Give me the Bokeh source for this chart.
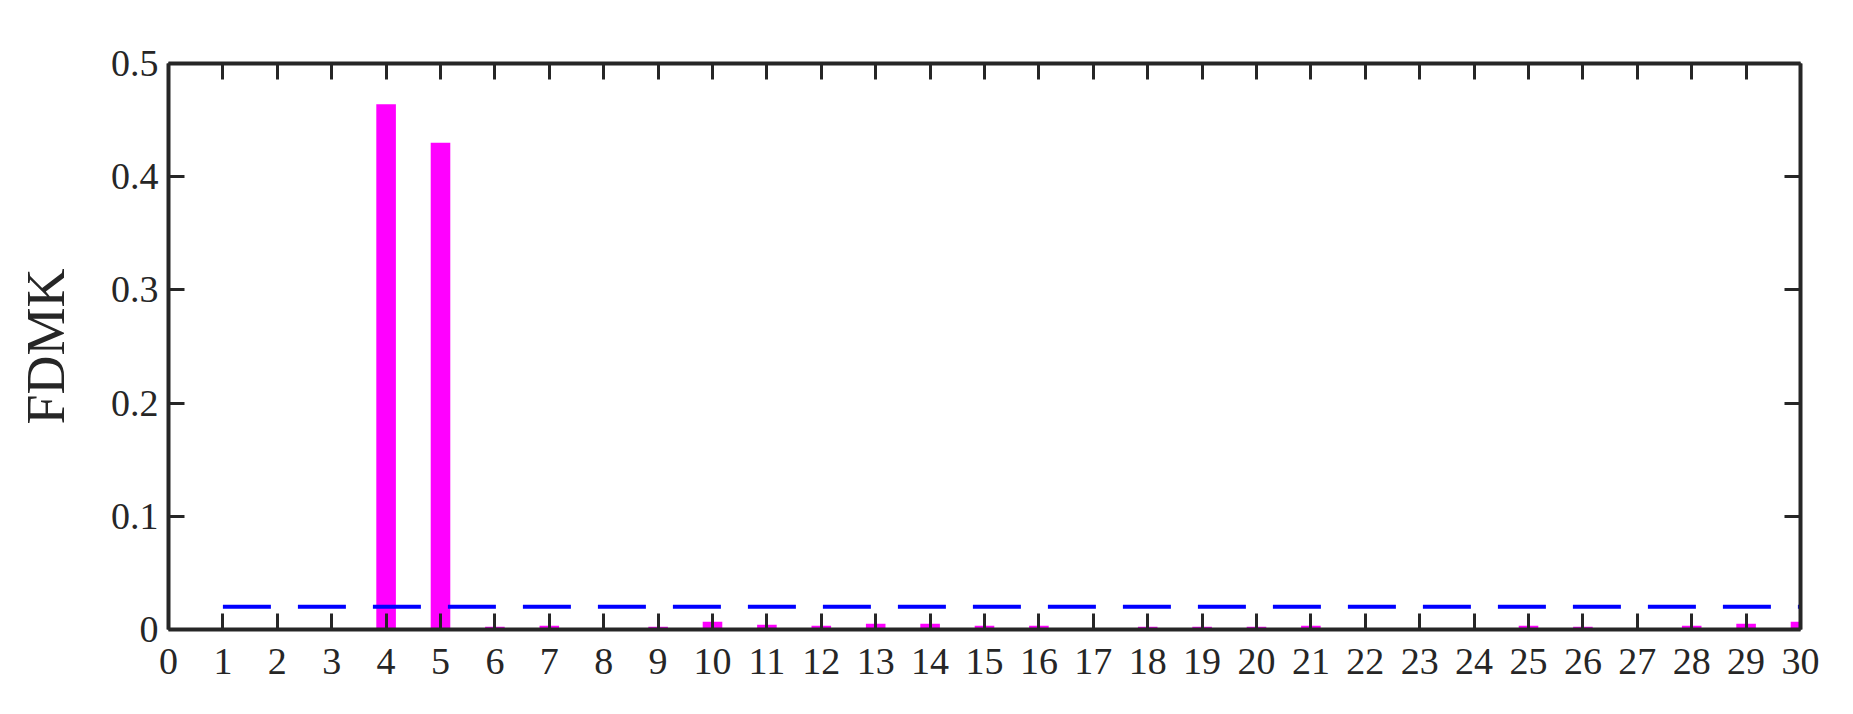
from bokeh.plotting import figure
from bokeh.models import LinearAxis, FixedTicker, Range1d
from bokeh.embed import file_html
from bokeh.resources import INLINE

# ---- data ----
index = list(range(1, 31))
fdmk = [0.001, 0.001, 0.001, 0.464, 0.430, 0.0024, 0.0033, 0.001, 0.0024, 0.0068,
        0.0041, 0.0033, 0.005, 0.005, 0.0033, 0.0033, 0.001, 0.0024, 0.0024, 0.0024,
        0.0033, 0.001, 0.001, 0.001, 0.0033, 0.0024, 0.001, 0.0033, 0.005, 0.0068]
threshold_x = [1, 30]
threshold_y = [0.02, 0.02]
x_ticks = list(range(0, 31))
y_ticks = [0, 0.1, 0.2, 0.3, 0.4, 0.5]
y_tick_labels = {0: "0", 0.1: "0.1", 0.2: "0.2", 0.3: "0.3", 0.4: "0.4", 0.5: "0.5"}

AX = "#262626"
FONT = "Liberation Serif"

p = figure(frame_width=1632, frame_height=566,
           min_border_left=168, min_border_top=63, min_border_right=37, min_border_bottom=77,
           x_range=Range1d(0, 30), y_range=Range1d(0, 0.5),
           output_backend="svg", toolbar_location=None,
           x_axis_location=None, y_axis_location=None)
p.outline_line_color = None
p.xgrid.visible = False
p.ygrid.visible = False
p.background_fill_color = "white"
p.border_fill_color = "white"

p.vbar(x=index, top=fdmk, width=0.36, bottom=0, fill_color="#FF00FF", line_color=None)
p.line(threshold_x, threshold_y, line_color="#0000FF", line_width=4, line_dash="48 27")


def style(ax, ticks, labels=True):
    ax.axis_line_color = AX
    ax.axis_line_width = 4
    ax.major_tick_line_color = AX
    ax.major_tick_line_width = 3
    ax.major_tick_in = 16
    ax.major_tick_out = 0
    ax.minor_tick_line_color = None
    ax.major_label_text_font = FONT
    ax.major_label_text_color = AX
    ax.major_label_text_font_size = "38px"
    if not labels:
        ax.major_label_overrides = {t: "" for t in ticks}
        ax.major_label_standoff = 0


xb = LinearAxis(ticker=FixedTicker(ticks=x_ticks))
style(xb, x_ticks)
xb.major_label_standoff = 19
p.add_layout(xb, "below")

xt = LinearAxis(ticker=FixedTicker(ticks=x_ticks))
style(xt, x_ticks, labels=False)
p.add_layout(xt, "above")

yl = LinearAxis(ticker=FixedTicker(ticks=y_ticks), axis_label="FDMK")
style(yl, y_ticks)
yl.major_label_standoff = 10
yl.major_label_overrides = y_tick_labels
yl.axis_label_text_font = FONT
yl.axis_label_text_font_size = "54px"
yl.axis_label_text_font_style = "normal"
yl.axis_label_text_color = AX
yl.axis_label_standoff = 32
p.add_layout(yl, "left")

yr = LinearAxis(ticker=FixedTicker(ticks=y_ticks))
style(yr, y_ticks, labels=False)
p.add_layout(yr, "right")

open("out.html", "w").write(file_html(p, INLINE))
